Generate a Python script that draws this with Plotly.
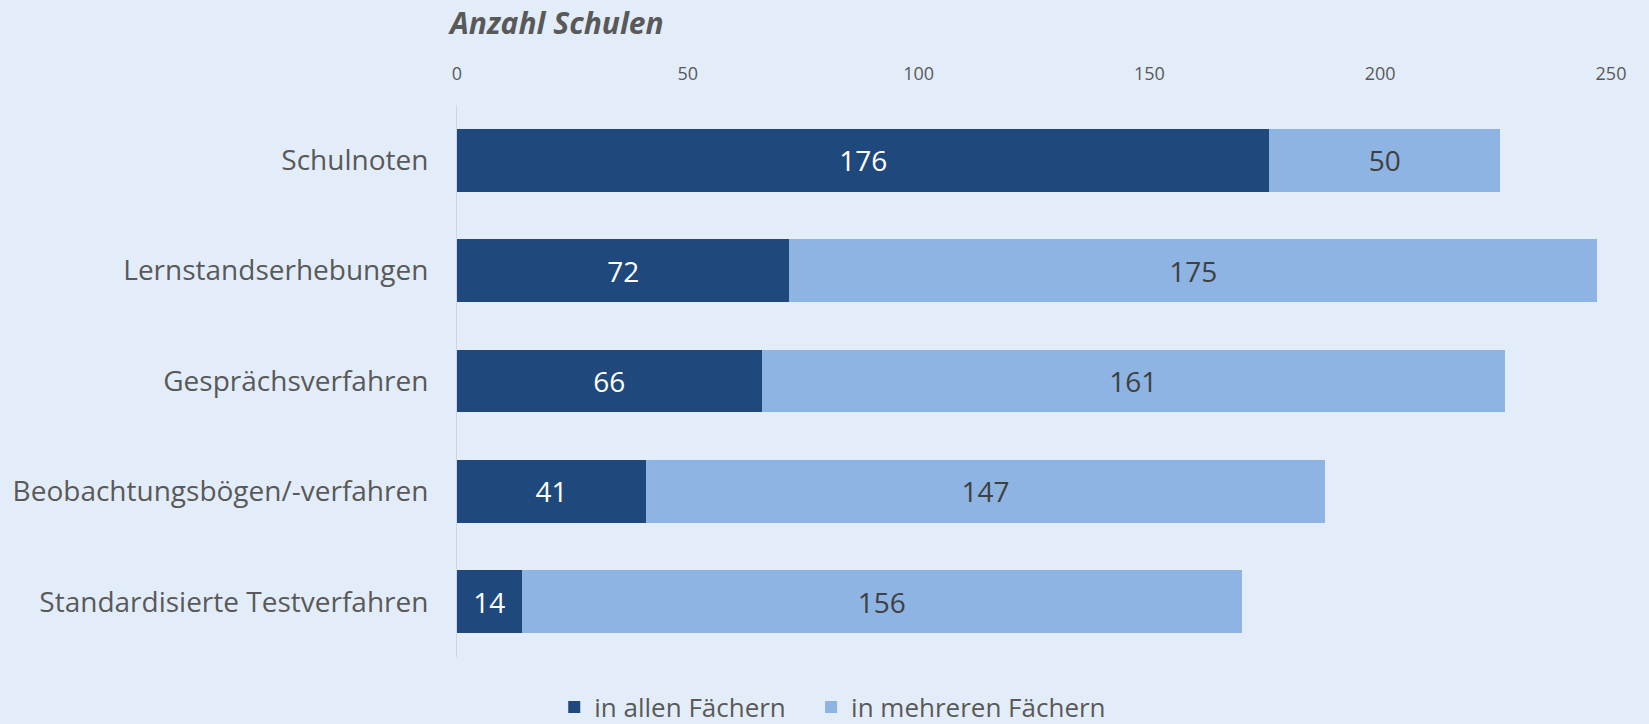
import plotly.graph_objects as go

categories = ["Schulnoten", "Lernstandserhebungen", "Gesprächsverfahren",
              "Beobachtungsbögen/-verfahren", "Standardisierte Testverfahren"]
alle = [176, 72, 66, 41, 14]
mehrere = [50, 175, 161, 147, 156]
series_names = ["in allen Fächern", "in mehreren Fächern"]
x_ticks = [0, 50, 100, 150, 200, 250]

BG = "#E3EDF9"
DARK = "#1F497D"
LIGHT = "#8EB4E3"
TXT = "#595959"
FONT = "Open Sans"
PAD = "\u00a0\u00a0\u00a0"

fig = go.Figure()
fig.add_trace(go.Bar(
    y=categories, x=alle, name=series_names[0] + PAD, orientation="h",
    marker=dict(color=DARK, line=dict(width=0)),
    text=alle, textposition="inside", insidetextanchor="middle",
    textfont=dict(color="white", size=28, family=FONT),
))
fig.add_trace(go.Bar(
    y=categories, x=mehrere, name=series_names[1], orientation="h",
    marker=dict(color=LIGHT, line=dict(width=0)),
    text=mehrere, textposition="inside", insidetextanchor="middle",
    textfont=dict(color="#404040", size=28, family=FONT),
))

fig.update_layout(
    barmode="stack",
    bargap=0.43,
    width=1649, height=724,
    paper_bgcolor=BG, plot_bgcolor=BG,
    margin=dict(l=457, r=38, t=105, b=67),
    font=dict(family=FONT, color=TXT),
    title=dict(text="<b><i>Anzahl Schulen</i></b>", xref="container", yref="container",
               x=450/1649, y=1-23/724, xanchor="left", yanchor="middle",
               font=dict(size=30, color=TXT, family=FONT)),
    showlegend=True,
    legend=dict(orientation="h", xref="container", yref="container",
                x=0.505, y=17/724, xanchor="center", yanchor="middle",
                font=dict(size=26, color=TXT, family=FONT),
                traceorder="normal", bgcolor="rgba(0,0,0,0)"),
    uniformtext=dict(mode="show", minsize=28),
)
fig.update_xaxes(
    side="top", range=[0, 250], tickvals=x_ticks, showgrid=False, zeroline=False,
    showline=False, ticks="", ticklabelstandoff=20,
    tickfont=dict(size=18, color=TXT, family=FONT),
)
fig.update_yaxes(
    autorange="reversed", showgrid=False, zeroline=False,
    showline=True, linecolor="#D0D5DC", linewidth=1, ticks="", ticklabelstandoff=22,
    tickfont=dict(size=28, color=TXT, family=FONT),
)

fig.write_html("out.html", config={"displayModeBar": False},
               post_script="document.body.style.margin='0';document.body.style.overflow='hidden';")
